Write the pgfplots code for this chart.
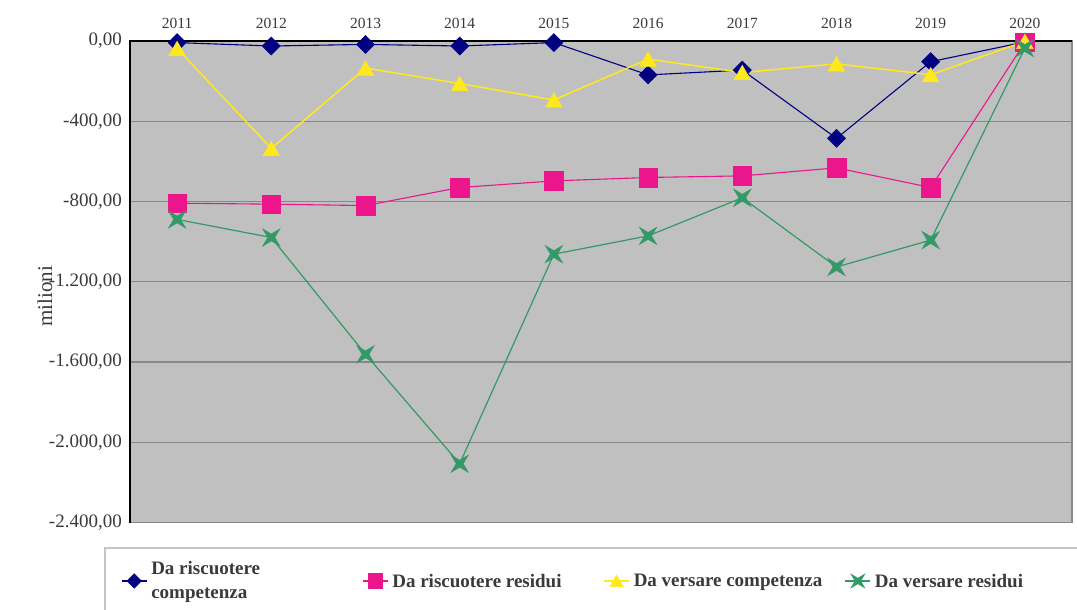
\documentclass[border=0pt]{standalone}
\usepackage{fontspec}
\setmainfont{Liberation Serif}
\usepackage{pgfplots}
\pgfplotsset{compat=1.18}
\definecolor{navyd}{HTML}{000080}
\definecolor{magd}{HTML}{EC168C}
\definecolor{yelld}{HTML}{FFE81C}
\definecolor{greend}{HTML}{339966}
\definecolor{plotbg}{HTML}{C0C0C0}
\definecolor{gridc}{HTML}{888888}
\definecolor{txt}{HTML}{3A3A3A}
\definecolor{legbord}{HTML}{C4C4C4}
\pgfdeclareplotmark{xstar}{%
  \pgfpathmoveto{\pgfqpoint{\pgfplotmarksize}{\pgfplotmarksize}}%
  \pgfpathlineto{\pgfqpoint{0pt}{0.4\pgfplotmarksize}}%
  \pgfpathlineto{\pgfqpoint{-\pgfplotmarksize}{\pgfplotmarksize}}%
  \pgfpathlineto{\pgfqpoint{-0.4\pgfplotmarksize}{0pt}}%
  \pgfpathlineto{\pgfqpoint{-\pgfplotmarksize}{-\pgfplotmarksize}}%
  \pgfpathlineto{\pgfqpoint{0pt}{-0.4\pgfplotmarksize}}%
  \pgfpathlineto{\pgfqpoint{\pgfplotmarksize}{-\pgfplotmarksize}}%
  \pgfpathlineto{\pgfqpoint{0.4\pgfplotmarksize}{0pt}}%
  \pgfpathclose
  \pgfusepathqfillstroke}
\begin{document}
\begin{tikzpicture}
\useasboundingbox (-130pt,-87.3pt) rectangle (947pt,522.7pt);
\begin{axis}[
  at={(0pt,0pt)}, anchor=south west,
  scale only axis, width=942pt, height=481.7pt,
  xmin=-0.5, xmax=9.5, ymin=-2400, ymax=0,
  xtick={0,1,2,3,4,5,6,7,8,9},
  xticklabels={2011,2012,2013,2014,2015,2016,2017,2018,2019,2020},
  xticklabel pos=upper,
  ytick={-2400,-2000,-1600,-1200,-800,-400,0},
  scaled y ticks=false,
  major tick length=0pt,
  ymajorgrids,
  grid style={gridc, line width=1.3pt},
  axis line style={gridc, line width=1.3pt},
  axis background/.style={fill=plotbg},
  clip=false,
  xticklabel style={font=\fontsize{15.5}{18}\selectfont, text=txt, inner sep=0pt, anchor=south, yshift=12pt},
  yticklabel style={font=\fontsize{19}{23}\selectfont, text=txt, inner sep=0pt, anchor=east, xshift=-8pt,
    /pgf/number format/.cd, fixed, fixed zerofill, precision=2, use comma, 1000 sep={.}, assume math mode=true},
  ylabel={milioni},
  every axis y label/.style={at={(axis description cs:-0.0902,0.47)}, rotate=90, anchor=center,
    font=\fontsize{21}{25}\selectfont, text=txt},
  legend columns=4,
  legend cell align=left,
  legend style={at={(axis description cs:-0.02654,-0.121)}, anchor=west,
    draw=none, fill=none, inner xsep=16pt, inner ysep=0pt,
    font=\fontsize{19}{24}\selectfont\bfseries, text=txt,
    /tikz/every odd column/.append style={column sep=4pt},
    nodes={inner sep=0pt}},
  legend image code/.code={\draw[mark repeat=2,mark phase=2,#1] plot coordinates {(0pt,0pt) (15.6pt,0pt) (31.2pt,0pt)};},
  legend image post style={scale=0.8},
]
\draw[legbord, line width=1.6pt, fill=white] (axis description cs:-0.02654,-0.05252) rectangle (axis description cs:1.05,-0.22);
\draw[black, line width=2pt] (rel axis cs:0,0) -- (rel axis cs:0,1) -- (rel axis cs:1,1);

\addplot[navyd, line width=1.1pt, mark=square*, mark size=6.4pt, mark options={rotate=45, fill=navyd, draw=navyd, line width=0.5pt}]
  coordinates {(0,-8) (1,-25) (2,-17) (3,-25) (4,-8) (5,-169) (6,-145) (7,-485) (8,-103) (9,-5)};
\addlegendentry{\raisebox{-6.5pt}[0pt][0pt]{\parbox{211pt}{\raggedright Da riscuotere\\competenza}}}

\addplot[magd, line width=1.1pt, mark=square*, mark size=9.3pt, mark options={fill=magd, draw=magd, line width=0.5pt}]
  coordinates {(0,-808) (1,-813) (2,-820) (3,-730) (4,-697) (5,-680) (6,-672) (7,-632) (8,-730) (9,-7)};
\addlegendentry{\parbox{211pt}{\raggedright Da riscuotere residui}}

\addplot[yelld, line width=1.5pt, mark=triangle*, mark size=9.6pt, mark options={yshift=-2.4pt, fill=yelld, draw=yelld, line width=0.5pt}]
  coordinates {(0,-37) (1,-535) (2,-135) (3,-212) (4,-294) (5,-90) (6,-157) (7,-114) (8,-168) (9,-2)};
\addlegendentry{\parbox{211pt}{\raggedright Da versare competenza}}

\addplot[greend, line width=1.2pt, mark=xstar, mark size=8.5pt, mark options={fill=greend, draw=greend, line width=0.6pt}]
  coordinates {(0,-889) (1,-979) (2,-1561) (3,-2106) (4,-1062) (5,-971) (6,-781) (7,-1126) (8,-992) (9,-35)};
\addlegendentry{\parbox{211pt}{\raggedright Da versare residui}}
\end{axis}
\end{tikzpicture}
\end{document}
